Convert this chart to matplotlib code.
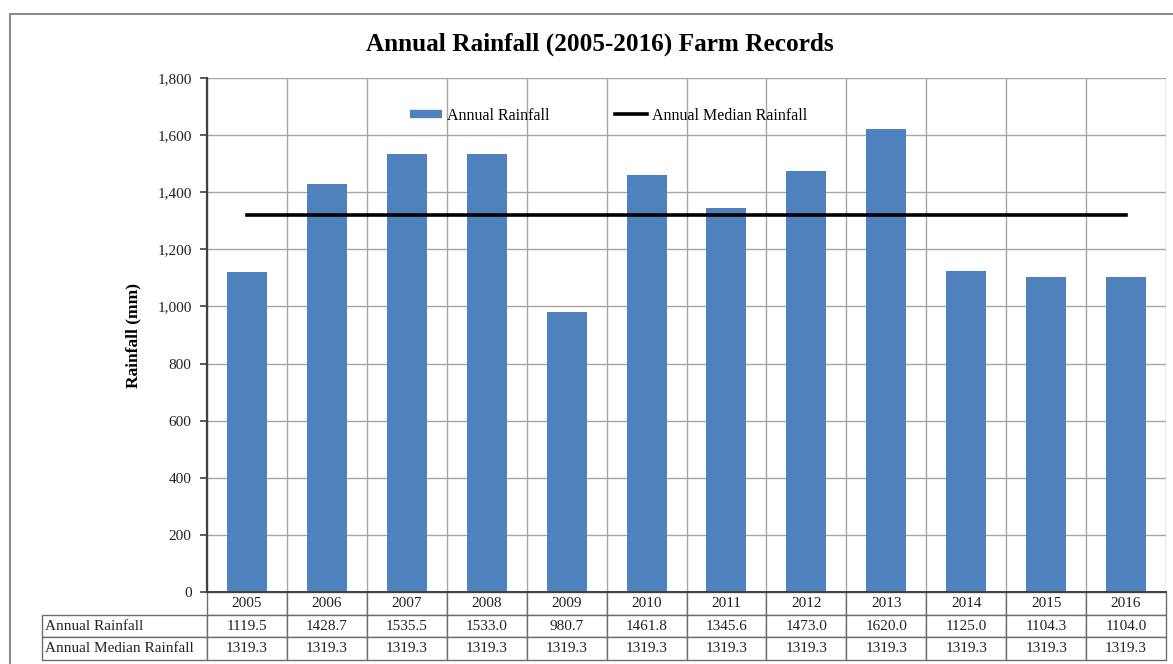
"""Annual rainfall farm records (2005-2016): Excel-style column chart with data table."""
import matplotlib
matplotlib.use("Agg")
import matplotlib.pyplot as plt
import numpy as np
from matplotlib.lines import Line2D
from matplotlib.patches import Rectangle
from matplotlib.table import Table
from matplotlib.ticker import FuncFormatter

years = ["2005", "2006", "2007", "2008", "2009", "2010",
         "2011", "2012", "2013", "2014", "2015", "2016"]
annual_rainfall = [1119.5, 1428.7, 1535.5, 1533.0, 980.7, 1461.8,
                   1345.6, 1473.0, 1620.0, 1125.0, 1104.3, 1104.0]
median_rainfall = [1319.3] * 12
row_labels = ["Annual Rainfall", "Annual Median Rainfall"]

BLUE = "#4F81BD"
GRID = "#A6A6A6"
EDGE = "#6E6E6E"

plt.rcParams["font.family"] = ["Liberation Serif", "DejaVu Serif"]

W, H = 1173, 664
fig = plt.figure(figsize=(W / 100, H / 100), dpi=100)

# outer chart frame
fig.patches.append(Rectangle((10 / W, -0.02), 1.05, 1 - 14 / H + 0.02,
                             transform=fig.transFigure, fill=False,
                             edgecolor="#8C8C8C", linewidth=1.5))

left, right, top, bottom = 207, 1166, 78, 592
aw, ah = right - left, bottom - top
ax = fig.add_axes([left / W, 1 - bottom / H, aw / W, ah / H])

x = np.arange(len(years))
ax.bar(x, annual_rainfall, width=0.5, color=BLUE, zorder=3)
ax.plot(x, median_rainfall, color="black", linewidth=2.6, zorder=4)

ax.set_xlim(-0.5, len(years) - 0.5)
ax.set_ylim(0, 1800)
ax.set_yticks(np.arange(0, 1801, 200))
ax.yaxis.set_major_formatter(FuncFormatter(lambda v, _: f"{v:,.0f}"))
ax.set_xticks(np.arange(-0.5, len(years), 1))
ax.set_xticklabels([])
ax.tick_params(axis="x", length=0)
ax.tick_params(axis="y", labelsize=11, length=5, width=1.2, color="#404040",
               pad=6, labelcolor="#222222")
ax.grid(True, color=GRID, linewidth=1.0, zorder=0)
for s in ("top", "right"):
    ax.spines[s].set_visible(False)
ax.spines["left"].set_color("#404040")
ax.spines["left"].set_linewidth(1.6)
ax.spines["bottom"].set_color("#404040")
ax.spines["bottom"].set_linewidth(1.4)
ax.spines["bottom"].set_zorder(5)

ax.set_ylabel("Rainfall (mm)", fontsize=12.5, fontweight="bold")
ax.yaxis.set_label_coords(-0.068, 0.5)

fig.text(0.511, 1 - 44 / H, "Annual Rainfall (2005-2016) Farm Records",
         ha="center", va="center", fontsize=18.2, fontweight="bold")

handles = [Line2D([], [], color=BLUE, linewidth=6, solid_capstyle="butt"),
           Line2D([], [], color="black", linewidth=2.6)]
ax.legend(handles, row_labels, loc="center", bbox_to_anchor=(0.419, 0.926),
          ncol=2, frameon=False, fontsize=11.5, handlelength=2.0,
          handletextpad=0.3, columnspacing=4.1)

# data table under the axis (bbox covers the year columns; labels sit to the left)
label_w = (207 - 42) / aw
col_w = 1 / len(years)
row_h = (660 - bottom) / ah / 3
tbl = Table(ax, bbox=[0, -3 * row_h, 1, 3 * row_h])
for j, yr in enumerate(years):
    tbl.add_cell(0, j, width=col_w, height=row_h, text=yr, loc="center",
                 edgecolor=EDGE, facecolor="white")
for i, (lab, vals) in enumerate(zip(row_labels, [annual_rainfall, median_rainfall]), start=1):
    tbl.add_cell(i, -1, width=label_w, height=row_h, text=lab, loc="left",
                 edgecolor=EDGE, facecolor="white")
    for j, v in enumerate(vals):
        tbl.add_cell(i, j, width=col_w, height=row_h, text=f"{v:.1f}", loc="center",
                     edgecolor=EDGE, facecolor="white")
tbl.auto_set_font_size(False)
tbl.set_fontsize(11)
for cell in tbl.get_celld().values():
    cell.set_linewidth(1.0)
    cell.get_text().set_color("#222222")
    cell.PAD = 0.02
ax.add_table(tbl)

fig.savefig("out.png", dpi=100)
